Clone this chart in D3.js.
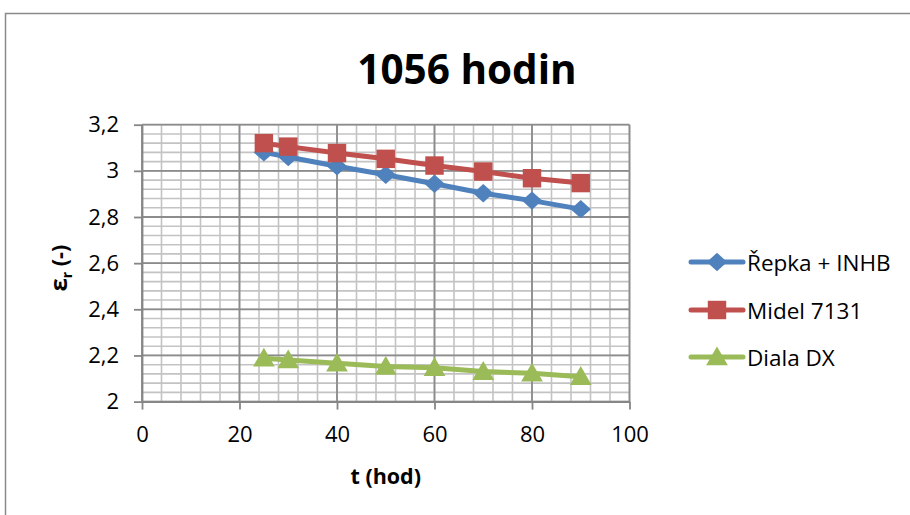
<!DOCTYPE html>
<html>
<head>
<meta charset="utf-8">
<script src="https://cdn.jsdelivr.net/npm/d3@7"></script>
<style>
  html, body { margin: 0; padding: 0; background: #fff; }
  svg { display: block; }
  text { font-family: "Open Sans", "Liberation Sans", sans-serif; fill: #000; }
</style>
</head>
<body>
<svg id="chart" width="910" height="515"></svg>
<script>
// Measurement times (hours)
const times = [25, 30, 40, 50, 60, 70, 80, 90];

// Relative permittivity for each oil
const repka = [3.08, 3.06, 3.02, 2.983, 2.944, 2.903, 2.871, 2.834];
const midel = [3.12, 3.105, 3.077, 3.052, 3.023, 2.997, 2.968, 2.947];
const diala = [2.188, 2.18, 2.166, 2.152, 2.147, 2.13, 2.123, 2.108];

const seriesNames = ["Řepka + INHB", "Midel 7131", "Diala DX"];
const seriesColors = ["#4f81bd", "#c0504d", "#9bbb59"];
const seriesSymbols = ["diamond", "square", "triangle"];

// Axis ticks
const xTicks = [0, 20, 40, 60, 80, 100];
const xTickLabels = ["0", "20", "40", "60", "80", "100"];
const yTicks = [2, 2.2, 2.4, 2.6, 2.8, 3, 3.2];
const yTickLabels = ["2", "2,2", "2,4", "2,6", "2,8", "3", "3,2"];
const xMinorStep = 4;
const yMinorStep = 0.04;

const titleText = "1056 hodin";
const xTitle = "t (hod)";

const svg = d3.select("#chart");

// Outer chart frame
svg.append("rect")
  .attr("x", 5.5).attr("y", 13.5)
  .attr("width", 1000).attr("height", 600)
  .attr("fill", "#fff")
  .attr("stroke", "#8a8a8a").attr("stroke-width", 1.5);

const plot = { left: 142, right: 629.5, top: 124.7, bottom: 401.6 };

const x = d3.scaleLinear().domain([0, 100]).range([plot.left, plot.right]);
const y = d3.scaleLinear().domain([2, 3.2]).range([plot.bottom, plot.top]);

// Minor grid
const g = svg.append("g");
const xMinor = d3.range(0, 100 + 1e-9, xMinorStep);
const yMinor = d3.range(0, 30 + 1).map(i => 2 + i * yMinorStep);
g.selectAll(".vminor").data(xMinor).join("line")
  .attr("x1", d => x(d)).attr("x2", d => x(d))
  .attr("y1", plot.top).attr("y2", plot.bottom)
  .attr("stroke", "#c3c3c3").attr("stroke-width", 1.6);
g.selectAll(".hminor").data(yMinor).join("line")
  .attr("y1", d => y(d)).attr("y2", d => y(d))
  .attr("x1", plot.left).attr("x2", plot.right)
  .attr("stroke", "#c3c3c3").attr("stroke-width", 1.6);

// Major grid
g.selectAll(".vmajor").data(xTicks).join("line")
  .attr("x1", d => x(d)).attr("x2", d => x(d))
  .attr("y1", plot.top).attr("y2", plot.bottom)
  .attr("stroke", "#8c8c8c").attr("stroke-width", 1.8);
g.selectAll(".hmajor").data(yTicks).join("line")
  .attr("y1", d => y(d)).attr("y2", d => y(d))
  .attr("x1", plot.left).attr("x2", plot.right)
  .attr("stroke", "#8c8c8c").attr("stroke-width", 1.8);

// Axes
const xAxis = d3.axisBottom(x).tickValues(xTicks)
  .tickFormat((d, i) => xTickLabels[i]).tickSizeInner(8).tickSizeOuter(0).tickPadding(17);
const yAxis = d3.axisLeft(y).tickValues(yTicks)
  .tickFormat((d, i) => yTickLabels[i]).tickSizeInner(8).tickSizeOuter(0).tickPadding(15);

const gx = svg.append("g").attr("transform", `translate(0,${plot.bottom})`).call(xAxis);
const gy = svg.append("g").attr("transform", `translate(${plot.left},0)`).call(yAxis);
[gx, gy].forEach(a => {
  a.select(".domain").attr("stroke", "#868686").attr("stroke-width", 1.8);
  a.selectAll(".tick line").attr("stroke", "#868686").attr("stroke-width", 1.8);
  a.selectAll(".tick text")
    .attr("font-family", "'Open Sans', sans-serif")
    .attr("font-size", 22).attr("fill", "#000");
});

// Marker shapes: wide diamond, square and triangle
const diamondShape = {
  draw(ctx, size) {
    const r = Math.sqrt(size / 2);
    ctx.moveTo(0, -r); ctx.lineTo(r * 1.1, 0); ctx.lineTo(0, r); ctx.lineTo(-r * 1.1, 0); ctx.closePath();
  }
};
const symbolTypes = { diamond: diamondShape, square: d3.symbolSquare, triangle: d3.symbolTriangle };
const symbolSizes = { diamond: 170, square: 340, triangle: 205 };
const symbolOffset = { diamond: 0, square: 0, triangle: 2 };

const line = d3.line().x(d => x(d[0])).y(d => y(d[1]));
const data = [repka, midel, diala];

data.forEach((vals, si) => {
  const pts = times.map((t, i) => [t, vals[i]]);
  const kind = seriesSymbols[si];
  const sg = svg.append("g");
  sg.append("path").datum(pts)
    .attr("d", line)
    .attr("fill", "none")
    .attr("stroke", seriesColors[si])
    .attr("stroke-width", 5)
    .attr("stroke-linejoin", "round")
    .attr("stroke-linecap", "round");
  const sym = d3.symbol().type(symbolTypes[kind]).size(symbolSizes[kind]);
  sg.selectAll("path.m").data(pts).join("path")
    .attr("class", "m")
    .attr("d", sym)
    .attr("transform", d => `translate(${x(d[0])},${y(d[1]) + symbolOffset[kind]})`)
    .attr("fill", seriesColors[si]);
});

// Title
svg.append("text")
  .attr("x", 467).attr("y", 84)
  .attr("text-anchor", "middle")
  .attr("font-size", 40.5).attr("font-weight", 700)
  .text(titleText);

// X axis title
svg.append("text")
  .attr("x", (plot.left + plot.right) / 2).attr("y", 484)
  .attr("text-anchor", "middle")
  .attr("font-size", 21.5).attr("font-weight", 700)
  .text(xTitle);

// Y axis title: epsilon with subscript r
const yt = svg.append("text")
  .attr("transform", `translate(67,${(plot.top + plot.bottom) / 2 + 5}) rotate(-90)`)
  .attr("text-anchor", "middle")
  .attr("font-size", 21.5).attr("font-weight", 700);
yt.append("tspan").attr("font-size", 24).text("ε");
yt.append("tspan").attr("font-size", 14).attr("dy", 5).text("r");
yt.append("tspan").attr("dy", -5).text(" (-)");

// Legend
const legendY = [262, 310, 357];
const legend = svg.append("g");
seriesNames.forEach((name, si) => {
  const ly = legendY[si];
  const kind = seriesSymbols[si];
  legend.append("line")
    .attr("x1", 691).attr("x2", 743).attr("y1", ly).attr("y2", ly)
    .attr("stroke", seriesColors[si]).attr("stroke-width", 5)
    .attr("stroke-linecap", "round");
  const sym = d3.symbol().type(symbolTypes[kind]).size(symbolSizes[kind]);
  legend.append("path")
    .attr("d", sym)
    .attr("transform", `translate(717,${ly + symbolOffset[kind]})`)
    .attr("fill", seriesColors[si]);
  legend.append("text")
    .attr("x", 747).attr("y", ly)
    .attr("dominant-baseline", "central")
    .attr("font-size", 22.5)
    .text(name);
});
</script>
</body>
</html>
